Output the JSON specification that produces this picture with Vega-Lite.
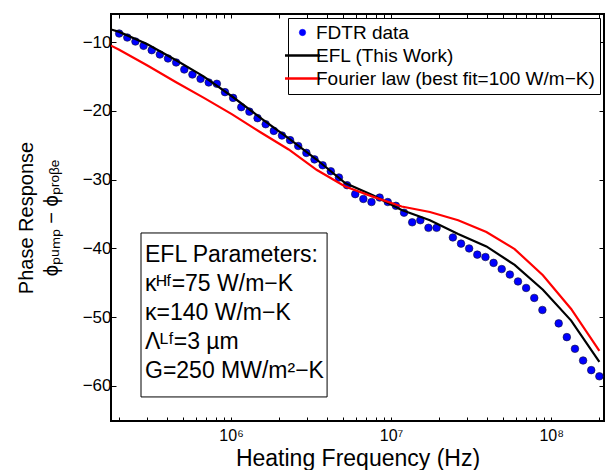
{
  "$schema": "https://vega.github.io/schema/vega-lite/v6.json",
  "width": 493,
  "height": 407,
  "autosize": "none",
  "padding": {"left": 111, "top": 14, "right": 6, "bottom": 49},
  "background": "white",
  "config": {
    "font": "Liberation Sans",
    "view": {"stroke": "black", "strokeWidth": 2},
    "point": {"opacity": 1},
    "axis": {"grid": false, "domain": false, "tickColor": "black", "labelColor": "black", "titleColor": "black", "titleFontWeight": "normal", "labelFont": "Liberation Sans", "titleFont": "Liberation Sans"}
  },
  "data": {
    "values": [
      {"freq": 200000, "phase": -8.74, "series": "FDTR data"},
      {"freq": 224800, "phase": -9.32, "series": "FDTR data"},
      {"freq": 252700, "phase": -9.9, "series": "FDTR data"},
      {"freq": 284100, "phase": -10.53, "series": "FDTR data"},
      {"freq": 319400, "phase": -11.16, "series": "FDTR data"},
      {"freq": 359100, "phase": -11.79, "series": "FDTR data"},
      {"freq": 403700, "phase": -12.37, "series": "FDTR data"},
      {"freq": 453900, "phase": -12.95, "series": "FDTR data"},
      {"freq": 510300, "phase": -13.97, "series": "FDTR data"},
      {"freq": 573700, "phase": -14.7, "series": "FDTR data"},
      {"freq": 644900, "phase": -15.33, "series": "FDTR data"},
      {"freq": 725100, "phase": -15.86, "series": "FDTR data"},
      {"freq": 815200, "phase": -16.05, "series": "FDTR data"},
      {"freq": 916400, "phase": -17.27, "series": "FDTR data"},
      {"freq": 1030200, "phase": -18.1, "series": "FDTR data"},
      {"freq": 1158200, "phase": -19.45, "series": "FDTR data"},
      {"freq": 1302100, "phase": -20.1, "series": "FDTR data"},
      {"freq": 1463900, "phase": -21.05, "series": "FDTR data"},
      {"freq": 1645700, "phase": -21.93, "series": "FDTR data"},
      {"freq": 1850100, "phase": -22.9, "series": "FDTR data"},
      {"freq": 2079900, "phase": -23.58, "series": "FDTR data"},
      {"freq": 2338300, "phase": -24.25, "series": "FDTR data"},
      {"freq": 2628700, "phase": -25.1, "series": "FDTR data"},
      {"freq": 2955200, "phase": -26.1, "series": "FDTR data"},
      {"freq": 3322300, "phase": -27.05, "series": "FDTR data"},
      {"freq": 3735000, "phase": -27.9, "series": "FDTR data"},
      {"freq": 4199000, "phase": -28.77, "series": "FDTR data"},
      {"freq": 4720500, "phase": -29.68, "series": "FDTR data"},
      {"freq": 5306900, "phase": -30.8, "series": "FDTR data"},
      {"freq": 5966000, "phase": -32.1, "series": "FDTR data"},
      {"freq": 6707200, "phase": -32.8, "series": "FDTR data"},
      {"freq": 7540300, "phase": -33.25, "series": "FDTR data"},
      {"freq": 8476900, "phase": -32.6, "series": "FDTR data"},
      {"freq": 9529800, "phase": -33.25, "series": "FDTR data"},
      {"freq": 10713000, "phase": -33.8, "series": "FDTR data"},
      {"freq": 12044000, "phase": -34.8, "series": "FDTR data"},
      {"freq": 13540000, "phase": -36.2, "series": "FDTR data"},
      {"freq": 15222000, "phase": -35.9, "series": "FDTR data"},
      {"freq": 17112000, "phase": -37.0, "series": "FDTR data"},
      {"freq": 19238000, "phase": -37.0, "series": "FDTR data"},
      {"freq": 24314000, "phase": -38.4, "series": "FDTR data"},
      {"freq": 27334000, "phase": -39.3, "series": "FDTR data"},
      {"freq": 30729000, "phase": -40.0, "series": "FDTR data"},
      {"freq": 34546000, "phase": -40.9, "series": "FDTR data"},
      {"freq": 38837000, "phase": -41.25, "series": "FDTR data"},
      {"freq": 43661000, "phase": -42.1, "series": "FDTR data"},
      {"freq": 49084000, "phase": -43.0, "series": "FDTR data"},
      {"freq": 55181000, "phase": -43.8, "series": "FDTR data"},
      {"freq": 62035000, "phase": -44.8, "series": "FDTR data"},
      {"freq": 69740000, "phase": -45.75, "series": "FDTR data"},
      {"freq": 78402000, "phase": -47.2, "series": "FDTR data"},
      {"freq": 88140000, "phase": -48.95, "series": "FDTR data"},
      {"freq": 111400000, "phase": -50.9, "series": "FDTR data"},
      {"freq": 125240000, "phase": -52.9, "series": "FDTR data"},
      {"freq": 140790000, "phase": -54.6, "series": "FDTR data"},
      {"freq": 158280000, "phase": -56.3, "series": "FDTR data"},
      {"freq": 177940000, "phase": -57.7, "series": "FDTR data"},
      {"freq": 200000000, "phase": -58.6, "series": "FDTR data"},
      {"freq": 177800, "phase": -8.15, "series": "EFL (This Work)"},
      {"freq": 200000, "phase": -8.5, "series": "EFL (This Work)"},
      {"freq": 300300, "phase": -10.3, "series": "EFL (This Work)"},
      {"freq": 450800, "phase": -12.6, "series": "EFL (This Work)"},
      {"freq": 676800, "phase": -15.0, "series": "EFL (This Work)"},
      {"freq": 1016200, "phase": -17.9, "series": "EFL (This Work)"},
      {"freq": 1525700, "phase": -21.0, "series": "EFL (This Work)"},
      {"freq": 2290600, "phase": -24.0, "series": "EFL (This Work)"},
      {"freq": 3439000, "phase": -27.1, "series": "EFL (This Work)"},
      {"freq": 5163200, "phase": -30.5, "series": "EFL (This Work)"},
      {"freq": 7751800, "phase": -32.3, "series": "EFL (This Work)"},
      {"freq": 11638000, "phase": -34.4, "series": "EFL (This Work)"},
      {"freq": 17473000, "phase": -35.9, "series": "EFL (This Work)"},
      {"freq": 26233000, "phase": -37.9, "series": "EFL (This Work)"},
      {"freq": 39385000, "phase": -39.7, "series": "EFL (This Work)"},
      {"freq": 59131000, "phase": -42.4, "series": "EFL (This Work)"},
      {"freq": 88777000, "phase": -46.0, "series": "EFL (This Work)"},
      {"freq": 133290000, "phase": -50.5, "series": "EFL (This Work)"},
      {"freq": 200000000, "phase": -56.5, "series": "EFL (This Work)"},
      {"freq": 177800, "phase": -10.5, "series": "Fourier law (best fit=100 W/m−K)"},
      {"freq": 200000, "phase": -11.1, "series": "Fourier law (best fit=100 W/m−K)"},
      {"freq": 300300, "phase": -13.4, "series": "Fourier law (best fit=100 W/m−K)"},
      {"freq": 450800, "phase": -15.8, "series": "Fourier law (best fit=100 W/m−K)"},
      {"freq": 676800, "phase": -18.1, "series": "Fourier law (best fit=100 W/m−K)"},
      {"freq": 1016200, "phase": -20.5, "series": "Fourier law (best fit=100 W/m−K)"},
      {"freq": 1525700, "phase": -23.1, "series": "Fourier law (best fit=100 W/m−K)"},
      {"freq": 2290600, "phase": -25.6, "series": "Fourier law (best fit=100 W/m−K)"},
      {"freq": 3439000, "phase": -28.6, "series": "Fourier law (best fit=100 W/m−K)"},
      {"freq": 5163200, "phase": -31.0, "series": "Fourier law (best fit=100 W/m−K)"},
      {"freq": 7751800, "phase": -32.5, "series": "Fourier law (best fit=100 W/m−K)"},
      {"freq": 11638000, "phase": -33.9, "series": "Fourier law (best fit=100 W/m−K)"},
      {"freq": 17473000, "phase": -34.7, "series": "Fourier law (best fit=100 W/m−K)"},
      {"freq": 26233000, "phase": -35.9, "series": "Fourier law (best fit=100 W/m−K)"},
      {"freq": 39385000, "phase": -37.6, "series": "Fourier law (best fit=100 W/m−K)"},
      {"freq": 59131000, "phase": -40.1, "series": "Fourier law (best fit=100 W/m−K)"},
      {"freq": 88777000, "phase": -43.9, "series": "Fourier law (best fit=100 W/m−K)"},
      {"freq": 133290000, "phase": -48.8, "series": "Fourier law (best fit=100 W/m−K)"},
      {"freq": 200000000, "phase": -54.9, "series": "Fourier law (best fit=100 W/m−K)"}
    ]
  },
  "resolve": {"axis": {"x": "independent", "y": "independent"}},
  "layer": [
    {
      "transform": [{"filter": "datum.series === 'FDTR data'"}],
      "mark": {"type": "point", "shape": "circle", "filled": true, "size": 58, "stroke": "#111133", "strokeWidth": 0.6, "clip": true},
      "encoding": {
        "x": {
          "field": "freq", "type": "quantitative",
          "scale": {"type": "log", "domain": [177800, 213800000], "nice": false},
          "axis": {
            "orient": "bottom",
            "values": [200000, 300000, 400000, 500000, 600000, 700000, 800000, 900000, 1000000, 2000000, 3000000, 4000000, 5000000, 6000000, 7000000, 8000000, 9000000, 10000000, 20000000, 30000000, 40000000, 50000000, 60000000, 70000000, 80000000, 90000000, 100000000, 200000000],
            "labelExpr": "datum.value == 1000000 ? '10⁶' : datum.value == 10000000 ? '10⁷' : datum.value == 100000000 ? '10⁸' : ''",
            "tickSize": -4, "labelPadding": 10, "labelFontSize": 16, "labelFlush": false, "labelOverlap": false,
            "title": "Heating Frequency (Hz)", "titleFontSize": 23, "titlePadding": 4
          }
        },
        "y": {
          "field": "phase", "type": "quantitative",
          "scale": {"domain": [-65.1, -5.9], "nice": false, "zero": false},
          "axis": {
            "orient": "left",
            "values": [-60, -50, -40, -30, -20, -10],
            "tickSize": -5, "labelPadding": 5, "labelFontSize": 17,
            "title": ["Phase Response", "ϕₚᵤₘₚ − ϕₚᵣₒᵦₑ"], "titleFontSize": 20, "titleLineHeight": 25, "titlePadding": 21
          }
        },
        "color": {
          "field": "series", "type": "nominal",
          "scale": {"domain": ["FDTR data", "EFL (This Work)", "Fourier law (best fit=100 W/m−K)"], "range": ["#0000ff", "#000000", "#ff0000"]}
        }
      }
    },
    {
      "transform": [{"filter": "datum.series !== 'FDTR data'"}],
      "mark": {"type": "line", "strokeWidth": 2.2, "clip": true},
      "encoding": {
        "x": {
          "field": "freq", "type": "quantitative",
          "axis": {
            "orient": "top",
            "values": [200000, 300000, 400000, 500000, 600000, 700000, 800000, 900000, 1000000, 2000000, 3000000, 4000000, 5000000, 6000000, 7000000, 8000000, 9000000, 10000000, 20000000, 30000000, 40000000, 50000000, 60000000, 70000000, 80000000, 90000000, 100000000, 200000000],
            "labels": false, "tickSize": -4, "title": null
          }
        },
        "y": {
          "field": "phase", "type": "quantitative",
          "axis": {"orient": "right", "values": [-60, -50, -40, -30, -20, -10], "labels": false, "tickSize": -5, "title": null}
        },
        "order": {"field": "freq", "type": "quantitative"},
        "color": {
          "field": "series", "type": "nominal",
          "legend": {
            "title": null, "orient": "top-right", "offset": 4, "padding": 5,
            "fillColor": "white", "strokeColor": "black",
            "labelFontSize": 19, "labelFont": "Liberation Sans", "labelColor": "black", "labelLimit": 400, "labelOffset": 4,
            "symbolType": "stroke", "symbolSize": 1225, "symbolStrokeWidth": 2.5, "rowPadding": 3,
            "encode": {
              "symbols": {
                "update": {
                  "shape": {"signal": "datum.value === 'FDTR data' ? 'circle' : 'stroke'"},
                  "size": {"signal": "datum.value === 'FDTR data' ? 40 : 1225"},
                  "fill": {"signal": "datum.value === 'FDTR data' ? '#0000ff' : 'transparent'"},
                  "stroke": {"signal": "datum.value === 'FDTR data' ? '#111133' : (datum.value === 'EFL (This Work)' ? '#000000' : '#ff0000')"},
                  "strokeWidth": {"signal": "datum.value === 'FDTR data' ? 0.6 : 2.5"}
                }
              }
            }
          }
        }
      }
    },
    {
      "data": {"values": [{}]},
      "mark": {"type": "rect", "fill": "white", "stroke": "black", "strokeWidth": 1},
      "encoding": {
        "x": {"datum": 273800, "axis": null},
        "x2": {"datum": 3981000},
        "y": {"datum": -37.75, "axis": null},
        "y2": {"datum": -61.6}
      }
    },
    {
      "data": {"values": [{}]},
      "mark": {"type": "text", "align": "left", "baseline": "alphabetic", "fontSize": 23, "lineHeight": 29, "font": "Liberation Sans", "color": "black",
        "text": ["EFL Parameters:", "κᴴᶠ=75 W/m−K", "κ=140 W/m−K", "Λᴸᶠ=3 µm", "G=250 MW/m²−K"]},
      "encoding": {
        "x": {"datum": 290000, "axis": null},
        "y": {"datum": -41.97, "axis": null}
      }
    }
  ]
}
